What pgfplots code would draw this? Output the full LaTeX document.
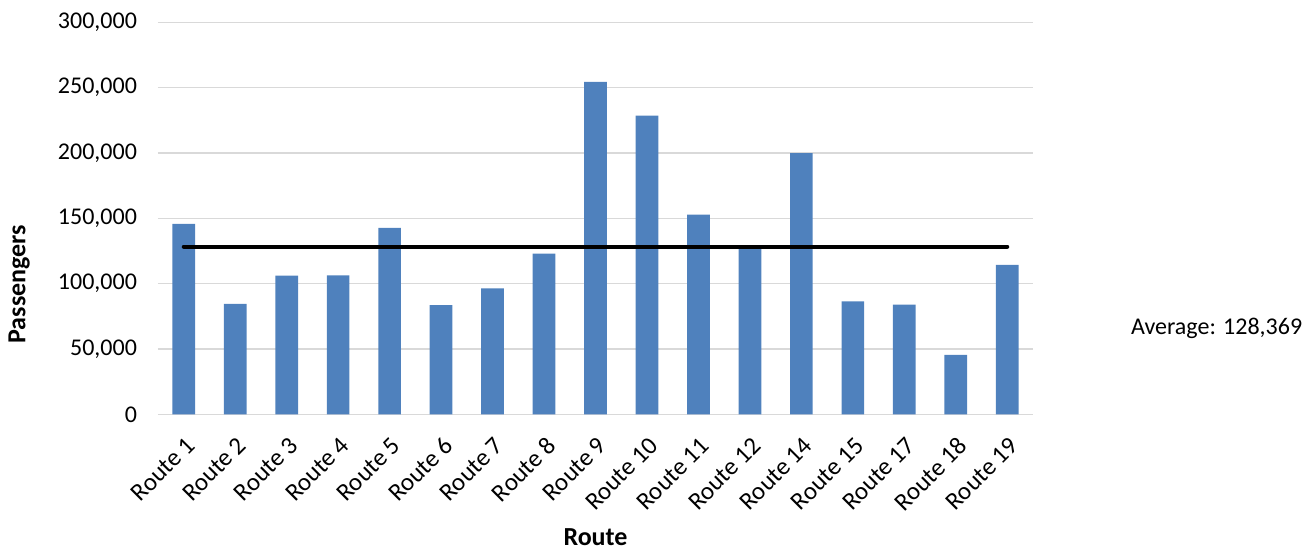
\documentclass[border=0pt]{standalone}
\usepackage{fontspec}
\setmainfont{Carlito}
\usepackage{pgfplots}
\pgfplotsset{compat=1.18}
\definecolor{barblue}{HTML}{4F81BD}
\definecolor{gridgray}{HTML}{D9D9D9}
\begin{document}
\begin{tikzpicture}
\path[use as bounding box] (-79pt,-67.85pt) rectangle (579pt,207.15pt);
\begin{axis}[
  at={(0,0)}, anchor=south west,
  scale only axis, width=437.5pt, height=196pt,
  xmin=-0.5, xmax=16.5, ymin=0, ymax=300000,
  ytick={0,50000,100000,150000,200000,250000,300000},
  yticklabels={0,{50,000},{100,000},{150,000},{200,000},{250,000},{300,000}},
  xtick={0,...,16},
  xticklabels={Route 1,Route 2,Route 3,Route 4,Route 5,Route 6,Route 7,Route 8,Route 9,Route 10,Route 11,Route 12,Route 14,Route 15,Route 17,Route 18,Route 19},
  axis line style={draw=none},
  tick style={draw=none},
  major tick length=0pt,
  ymajorgrids, grid style={gridgray, line width=0.75pt},
  scaled y ticks=false,
  yticklabel style={font=\fontsize{12}{14}\selectfont, xshift=-7pt},
  xticklabel style={xshift=0.5pt, yshift=-9pt, rotate=45, anchor=north east, font=\fontsize{12.5}{14}\selectfont, inner sep=1pt},
  ylabel={Passengers}, xlabel={Route},
  every axis y label/.style={at={(axis description cs:-0.1587,0.332)}, rotate=90, anchor=center, font=\bfseries\fontsize{13}{15}\selectfont},
  every axis x label/.style={at={(axis description cs:0.5,0)}, yshift=-61.5pt, anchor=center, font=\bfseries\fontsize{13}{15}\selectfont},
  clip=false,
]
\addplot[ybar, bar width=11.35pt, fill=barblue, draw=none] coordinates {
(0,145700) (1,84500) (2,106200) (3,106400) (4,142600) (5,83500) (6,96300) (7,123000)
(8,254400) (9,228600) (10,152900) (11,127600) (12,199800) (13,86500) (14,84000) (15,45500) (16,114300)};
\addplot[black, line width=2pt, line cap=round] coordinates {(0,128369) (16,128369)};
\node[anchor=west, font=\fontsize{12}{14}\selectfont, xshift=45.5pt] at (rel axis cs:1,0.22) {Average: 128,369};
\end{axis}
\end{tikzpicture}
\end{document}
